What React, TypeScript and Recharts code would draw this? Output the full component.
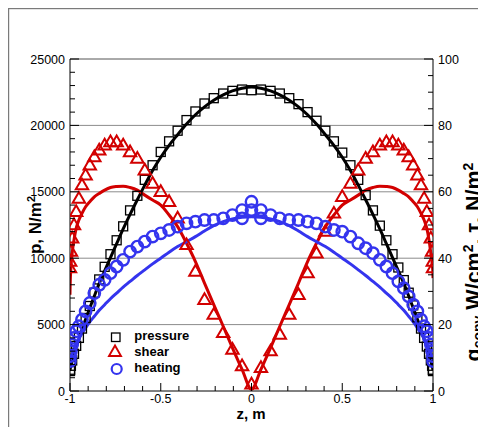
import React from 'react';
import { ComposedChart, Line, XAxis, YAxis, ReferenceLine } from 'recharts';

// ---- data ----
const zValues = [
  -1, -0.999, -0.995, -0.988, -0.978, -0.966, -0.951, -0.934, -0.914, -0.891,
  -0.866, -0.839, -0.809, -0.777, -0.743, -0.707, -0.669, -0.629, -0.588, -0.545,
  -0.5, -0.454, -0.407, -0.358, -0.309, -0.259, -0.208, -0.156, -0.105, -0.052,
  0,
  0.052, 0.105, 0.156, 0.208, 0.259, 0.309, 0.358, 0.407, 0.454, 0.5,
  0.545, 0.588, 0.629, 0.669, 0.707, 0.743, 0.777, 0.809, 0.839, 0.866,
  0.891, 0.914, 0.934, 0.951, 0.966, 0.978, 0.988, 0.995, 0.999, 1,
];

// pressure, N/m^2 (left axis)
const pressureSymbols = [
  1500, 1600, 1900, 2300, 2800, 3400, 4000, 4700, 5500, 6400,
  7400, 8400, 9350, 10300, 11350, 12400, 13600, 14700, 15900, 17000,
  18000, 18800, 19600, 20400, 21050, 21650, 22050, 22400, 22600, 22700,
  22650,
  22700, 22600, 22400, 22050, 21600, 21000, 20350, 19600, 18800, 17950,
  17000, 15900, 14750, 13600, 12450, 11350, 10300, 9300, 8350, 7400,
  6450, 5550, 4700, 4000, 3350, 2800, 2300, 1900, 1600, 1500,
];
const pressureLine = [
  1550, 1650, 1900, 2250, 2750, 3300, 3900, 4600, 5400, 6250,
  7150, 8100, 9050, 10050, 11100, 12200, 13300, 14400, 15500, 16600,
  17600, 18500, 19300, 20100, 20800, 21400, 21900, 22300, 22600, 22800,
  22900,
  22800, 22600, 22300, 21900, 21400, 20800, 20100, 19300, 18500, 17600,
  16600, 15500, 14400, 13300, 12200, 11100, 10050, 9050, 8100, 7150,
  6250, 5400, 4600, 3900, 3300, 2750, 2250, 1900, 1650, 1550,
];

// shear, N/m^2 (right axis)
const shearSymbols = [
  37, 39, 42, 46, 50, 54, 58, 62, 65, 68,
  70.5, 72.5, 74, 75, 75, 74, 72, 70, 66.5, 62.5,
  60, 57, 52, 44, 36, 27.5, 23, 17.5, 12.5, 7.5,
  2,
  7, 12, 17, 23, 29, 35.5, 41.5, 48, 53.5, 58.5,
  62.5, 66.5, 70, 72, 74, 75, 75, 74, 72.5, 70.5,
  68, 65, 62, 58, 54, 50, 46, 42, 39, 37,
];
const shearLine = [
  29, 32, 37, 41.5, 45.5, 49, 51.5, 53.5, 55.5, 57,
  58.5, 59.5, 60.5, 61.3, 61.6, 61.7, 61.3, 60.5, 59, 57.5,
  56, 53, 49.5, 44.5, 39, 32.5, 26, 19.5, 13, 6.5,
  0.5,
  6.5, 13, 19.5, 26, 32.5, 39, 44.5, 49.5, 53, 56,
  57.5, 59, 60.5, 61.3, 61.7, 61.6, 61.3, 60.5, 59.5, 58.5,
  57, 55.5, 53.5, 51.5, 49, 45.5, 41.5, 38.5, 36, 34,
];

// heating, W/cm^2 (right axis)
const heatingSymbols = [
  9, 10.5, 12, 14, 16, 18, 19.5, 21.5, 24, 26.5,
  29.5, 32, 33.5, 35.5, 37.5, 39.5, 42, 43.5, 45, 46.5,
  47.5, 48.5, 49.5, 50.5, 51, 51.5, 51.5, 52, 53, 54.5,
  57,
  54.5, 53, 52, 51.5, 51.5, 51, 50.5, 49.5, 48.5, 48,
  46.5, 44.5, 43, 41.5, 39.5, 37.5, 35.5, 33, 31, 28.5,
  26, 24, 21.5, 19.5, 18, 16, 14, 12, 10.5, 9,
];
const heatingLine = [
  8.5, 9, 10, 11.3, 12.8, 14.3, 15.8, 17.3, 19, 20.8,
  22.5, 24.3, 26, 27.8, 29.5, 31.3, 33, 34.8, 36.5, 38.3,
  40, 41.8, 43.5, 45, 46.5, 48.2, 49.8, 51, 51.8, 52.3,
  52.5,
  52.3, 51.8, 51, 49.8, 48.2, 46.5, 45, 43.5, 41.8, 40,
  38.3, 36.5, 34.8, 33, 31.3, 29.5, 27.8, 26, 24.3, 22.5,
  20.8, 19, 17.3, 15.8, 14.3, 12.8, 11.3, 10, 9, 8.5,
];
const heatingExtraZ = [-0.052, 0, 0.052];
const heatingExtraValues = [52, 54.5, 52];

// ticks
const xTicks = [-1, -0.9, -0.8, -0.7, -0.6, -0.5, -0.4, -0.3, -0.2, -0.1, 0, 0.1, 0.2, 0.3, 0.4, 0.5, 0.6, 0.7, 0.8, 0.9, 1];
const xMajor = [-1, -0.5, 0, 0.5, 1];
const xLabels = ['-1', '-0.5', '0', '0.5', '1'];
const pTicks = [0, 1000, 2000, 3000, 4000, 5000, 6000, 7000, 8000, 9000, 10000, 11000, 12000, 13000, 14000, 15000, 16000, 17000, 18000, 19000, 20000, 21000, 22000, 23000, 24000, 25000];
const pMajor = [0, 5000, 10000, 15000, 20000, 25000];
const pLabels = ['0', '5000', '10000', '15000', '20000', '25000'];
const qTicks = [0, 5, 10, 15, 20, 25, 30, 35, 40, 45, 50, 55, 60, 65, 70, 75, 80, 85, 90, 95, 100];
const qMajor = [0, 20, 40, 60, 80, 100];
const qLabels = ['0', '20', '40', '60', '80', '100'];
const gridValues = [5000, 10000, 15000, 20000];

// ---- styles ----
const FONT = '"Liberation Sans", Arial, Helvetica, sans-serif';
const RED = '#d20000';
const BLUE = '#3434ee';
const GRID = '#8c8c8c';

const tableData = zValues.map((z, i) => ({
  z,
  pSym: pressureSymbols[i],
  pLine: pressureLine[i],
  sSym: shearSymbols[i],
  sLine: shearLine[i],
  hSym: heatingSymbols[i],
  hLine: heatingLine[i],
}));
const extraData = heatingExtraZ.map((z, i) => ({ z, hx: heatingExtraValues[i] }));

const XTick = (props: any) => {
  const { x, y, payload } = props;
  const idx = xMajor.indexOf(payload.value);
  const major = idx >= 0;
  return (
    <g>
      <line x1={x} x2={x} y1={y} y2={y - (major ? 8 : 5)} stroke="#000" strokeWidth={1} />
      {major && (
        <text x={x} y={y + 11.5} textAnchor="middle" fontSize={12.5} fontFamily={FONT} fill="#000">
          {xLabels[idx]}
        </text>
      )}
    </g>
  );
};

const LeftTick = (props: any) => {
  const { x, y, payload } = props;
  const idx = pMajor.indexOf(payload.value);
  const major = idx >= 0;
  return (
    <g>
      <line x1={x} x2={x + (major ? 9 : 5)} y1={y} y2={y} stroke="#000" strokeWidth={1} />
      {major && (
        <text x={x - 5} y={y + 4.5} textAnchor="end" fontSize={12.5} fontFamily={FONT} fill="#000">
          {pLabels[idx]}
        </text>
      )}
    </g>
  );
};

const RightTick = (props: any) => {
  const { x, y, payload } = props;
  const idx = qMajor.indexOf(payload.value);
  const major = idx >= 0;
  return (
    <g>
      <line x1={x} x2={x - (major ? 9 : 5)} y1={y} y2={y} stroke="#000" strokeWidth={1} />
      {major && (
        <text x={x + 5} y={y + 4.5} textAnchor="start" fontSize={12.5} fontFamily={FONT} fill="#000">
          {qLabels[idx]}
        </text>
      )}
    </g>
  );
};

const squareDot = (props: any) => {
  const { cx, cy, index } = props;
  if (cx == null || cy == null || isNaN(cy)) return <g key={`sq-${index}`} />;
  return <rect key={`sq-${index}`} x={cx - 4.5} y={cy - 4.5} width={9} height={9} fill="none" stroke="#000" strokeWidth={1.3} />;
};
const triangleDot = (props: any) => {
  const { cx, cy, index } = props;
  if (cx == null || cy == null || isNaN(cy)) return <g key={`tr-${index}`} />;
  return (
    <polygon
      key={`tr-${index}`}
      points={`${cx},${cy - 6.5} ${cx - 6.2},${cy + 4.2} ${cx + 6.2},${cy + 4.2}`}
      fill="none"
      stroke={RED}
      strokeWidth={2}
      strokeLinejoin="miter"
    />
  );
};
const circleDot = (props: any) => {
  const { cx, cy, index } = props;
  if (cx == null || cy == null || isNaN(cy)) return <g key={`ci-${index}`} />;
  return <circle key={`ci-${index}`} cx={cx} cy={cy} r={5.7} fill="none" stroke={BLUE} strokeWidth={2.4} />;
};

export default function App() {
  return (
    <div style={{ position: 'relative', width: 478, height: 419, background: '#fff' }}>
      <ComposedChart
        width={478}
        height={412}
        data={tableData}
        margin={{ top: 51, right: 0, bottom: 0, left: 0 }}
      >
        <XAxis
          dataKey="z"
          type="number"
          domain={[-1, 1]}
          ticks={xTicks}
          interval={0}
          height={29}
          tick={<XTick />}
          tickLine={false}
          tickSize={0}
          tickMargin={0}
          axisLine={{ stroke: '#000', strokeWidth: 1 }}
          allowDataOverflow
        />
        <YAxis
          yAxisId="left"
          orientation="left"
          type="number"
          domain={[0, 25000]}
          ticks={pTicks}
          interval={0}
          width={62}
          tick={<LeftTick />}
          tickLine={false}
          tickSize={0}
          tickMargin={0}
          axisLine={{ stroke: '#000', strokeWidth: 1 }}
          allowDataOverflow
        />
        <YAxis
          yAxisId="right"
          orientation="right"
          type="number"
          domain={[0, 100]}
          ticks={qTicks}
          interval={0}
          width={53}
          tick={<RightTick />}
          tickLine={false}
          tickSize={0}
          tickMargin={0}
          axisLine={{ stroke: '#000', strokeWidth: 1 }}
          allowDataOverflow
        />
        {gridValues.map((v) => (
          <ReferenceLine key={`g-${v}`} yAxisId="left" y={v} stroke={GRID} strokeWidth={1} />
        ))}
        <ReferenceLine yAxisId="left" y={25000} stroke="#555" strokeWidth={1} />

        <Line yAxisId="left" dataKey="pSym" stroke="none" strokeWidth={0} dot={squareDot} activeDot={false} isAnimationActive={false} />
        <Line yAxisId="left" dataKey="pLine" type="monotone" stroke="#000" strokeWidth={3} dot={false} activeDot={false} isAnimationActive={false} />
        <Line yAxisId="right" dataKey="sSym" stroke="none" strokeWidth={0} dot={triangleDot} activeDot={false} isAnimationActive={false} />
        <Line yAxisId="right" dataKey="sLine" type="monotone" stroke={RED} strokeWidth={3} dot={false} activeDot={false} isAnimationActive={false} />
        <Line yAxisId="right" dataKey="hSym" stroke="none" strokeWidth={0} dot={circleDot} activeDot={false} isAnimationActive={false} />
        <Line yAxisId="right" data={extraData} dataKey="hx" stroke="none" strokeWidth={0} dot={circleDot} activeDot={false} isAnimationActive={false} />
        <Line yAxisId="right" dataKey="hLine" type="monotone" stroke={BLUE} strokeWidth={3} dot={false} activeDot={false} isAnimationActive={false} />
      </ComposedChart>

      <svg
        width={478}
        height={419}
        style={{ position: 'absolute', left: 0, top: 0, pointerEvents: 'none' }}
      >
        {/* outer frame */}
        <rect x={0} y={0} width={478} height={1.2} fill="#7a7a7a" />
        <rect x={0} y={0} width={1.2} height={419} fill="#7a7a7a" />

        {/* left axis title */}
        <text
          x={27}
          y={223}
          transform="rotate(-90 27 217)"
          textAnchor="middle"
          fontSize={17}
          fontWeight="bold"
          fontFamily={FONT}
          fill="#000"
        >
          p, N/m<tspan dy={-6} fontSize={11}>2</tspan>
        </text>
        {/* right axis title */}
        <text
          x={467}
          y={259.5}
          transform="rotate(-90 467 254)"
          textAnchor="middle"
          fontSize={21.5}
          fontWeight="bold"
          fontFamily={FONT}
          fill="#000"
        >
          q<tspan dy={2.5} fontSize={14}>conv</tspan>
          <tspan dy={-2.5}> W/cm</tspan>
          <tspan dy={-8} fontSize={14}>2</tspan>
          <tspan dy={8}>, τ, N/m</tspan>
          <tspan dy={-8} fontSize={14}>2</tspan>
        </text>
        {/* x axis title */}
        <text x={243} y={411} textAnchor="middle" fontSize={15} fontWeight="bold" fontFamily={FONT} fill="#000">
          z, m
        </text>

        {/* legend */}
        <rect x={103.5} y={325} width={8.5} height={8.5} fill="none" stroke="#000" strokeWidth={1.3} />
        <text x={126.3} y={332} fontSize={13} fontWeight="bold" fontFamily={FONT} fill="#000">pressure</text>
        <polygon points="107,337.5 101,348 113,348" fill="none" stroke={RED} strokeWidth={1.9} />
        <text x={126.3} y={348} fontSize={13} fontWeight="bold" fontFamily={FONT} fill="#000">shear</text>
        <circle cx={108.7} cy={361} r={5} fill="none" stroke={BLUE} strokeWidth={2.2} />
        <text x={126.3} y={364} fontSize={13} fontWeight="bold" fontFamily={FONT} fill="#000">heating</text>
      </svg>
    </div>
  );
}
